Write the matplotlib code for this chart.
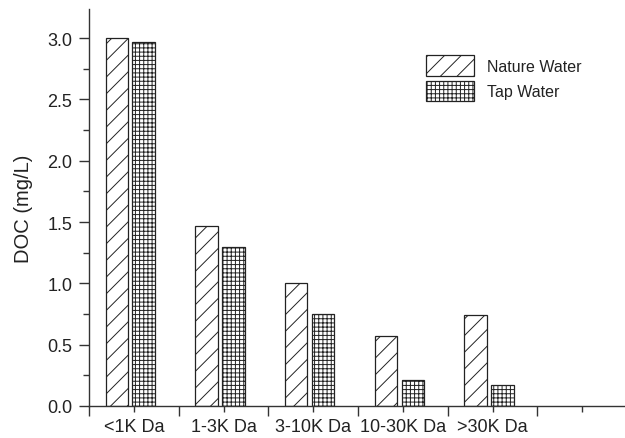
import matplotlib as mpl
mpl.use('Agg')
import matplotlib.pyplot as plt
import numpy as np

# molecular weight fractions and DOC per fraction
categories = ['<1K Da', '1-3K Da', '3-10K Da', '10-30K Da', '>30K Da']
nature_water = [3.00, 1.47, 1.00, 0.57, 0.74]
tap_water = [2.97, 1.30, 0.75, 0.21, 0.17]
series_names = ['Nature Water', 'Tap Water']
y_ticks = [0.0, 0.5, 1.0, 1.5, 2.0, 2.5, 3.0]

plt.rcParams['font.family'] = ['Liberation Sans', 'DejaVu Sans']
plt.rcParams['hatch.linewidth'] = 0.7
ink = '#222222'

fig = plt.figure(figsize=(6.25, 4.39), dpi=100)
ax = fig.add_axes([0.1424, 0.0729, 0.861, 0.904])

pos = np.arange(1, len(categories) + 1)
width = 0.25
ax.bar(pos - 0.19, nature_water, width, color='white', edgecolor=ink,
       hatch='//', linewidth=0.9, label=series_names[0])
ax.bar(pos + 0.11, tap_water, width, color='white', edgecolor=ink,
       hatch='++++', linewidth=0.9, label=series_names[1])

ax.set_xlim(0.5, 6.5)
ax.set_ylim(0, 3.236)

# major ticks sit between groups, labels go on the minor ticks
ax.set_xticks(np.arange(0.5, 7.0, 1.0))
ax.set_xticklabels([])
ax.set_xticks(pos.tolist() + [6], minor=True)
ax.set_xticklabels(categories + [''], minor=True, fontsize=13, color=ink)

ax.set_yticks(y_ticks)
ax.set_yticklabels(['%.1f' % v for v in y_ticks], fontsize=13, color=ink)
ax.set_yticks(np.arange(0.25, 3.2, 0.5), minor=True)

ax.tick_params(axis='both', which='major', length=7, width=1, color='#333333')
ax.tick_params(axis='both', which='minor', length=4, width=1, color='#333333')
ax.tick_params(axis='x', which='minor', pad=5)
ax.tick_params(axis='y', which='major', pad=5)

for s in ['top', 'right']:
    ax.spines[s].set_visible(False)
for s in ['left', 'bottom']:
    ax.spines[s].set_color('#333333')
    ax.spines[s].set_linewidth(1)

ax.set_ylabel('DOC (mg/L)', fontsize=14.5, color=ink, labelpad=10)

leg = ax.legend(loc='upper left', bbox_to_anchor=(0.6, 0.92), frameon=False,
                fontsize=11.5, handlelength=3.0, handleheight=1.6,
                handletextpad=0.8, labelspacing=0.3, labelcolor=ink)

fig.savefig('out.png', dpi=100)
